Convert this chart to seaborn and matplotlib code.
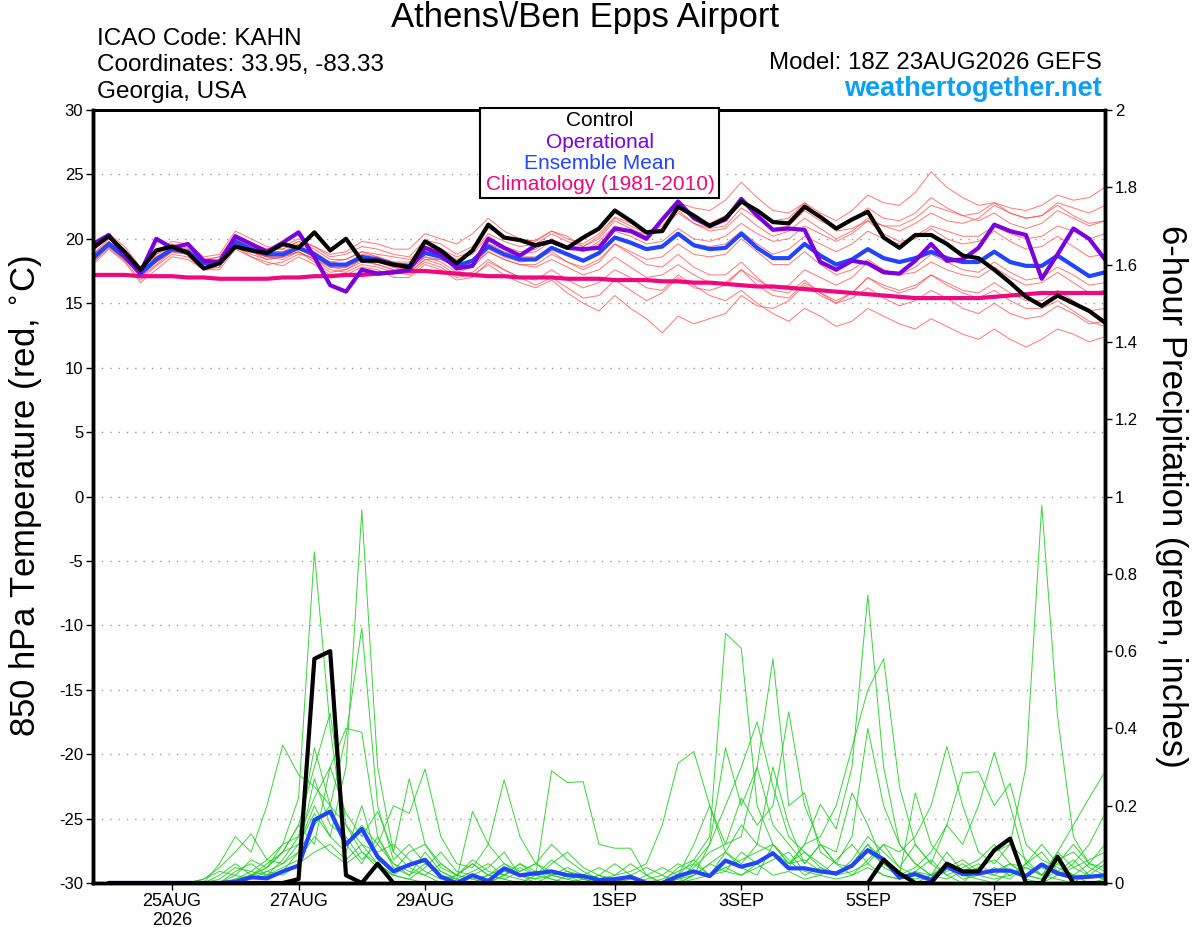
import numpy as np
import pandas as pd
import matplotlib
matplotlib.use("Agg")
import matplotlib.pyplot as plt
import matplotlib.patches as mpatches
import seaborn as sns

# 6-hourly GEFS run, 18Z 23AUG2026 out to 384 h
times = pd.date_range("2026-08-23 18:00", periods=65, freq="6h")
precip_times = times[1:]

# 850 hPa temperature (C)
control_temp = [19.3, 20.2, 19.0, 17.6, 19.1, 19.4, 18.9, 17.7, 18.1, 19.4,
                19.1, 18.9, 19.6, 19.3, 20.5, 19.1, 20.0, 18.3, 18.3, 18.0,
                17.8, 19.8, 19.1, 18.1, 19.1, 21.1, 20.1, 19.9, 19.5, 19.8,
                19.3, 20.1, 20.8, 22.2, 21.4, 20.5, 20.6, 22.5, 21.8, 21.0,
                21.6, 22.9, 22.2, 21.3, 21.2, 22.5, 21.7, 20.8, 21.5, 22.1,
                20.1, 19.3, 20.3, 20.3, 19.6, 18.7, 18.5, 17.6, 16.6, 15.5,
                14.8, 15.6, 15.0, 14.4, 13.5]
oper_temp = [19.6, 20.3, 18.7, 17.4, 20.0, 19.3, 19.6, 18.3, 18.2, 20.2,
             19.6, 19.0, 19.7, 20.5, 18.6, 16.4, 15.9, 17.6, 17.3, 17.4,
             17.6, 19.3, 18.8, 17.7, 17.9, 20.0, 19.3, 18.7, 19.5, 19.8,
             19.3, 19.2, 19.3, 20.8, 20.6, 20.0, 21.5, 22.9, 21.6, 21.0,
             21.5, 23.1, 21.8, 20.7, 20.8, 20.7, 18.2, 17.6, 18.3, 18.1,
             17.4, 17.3, 18.3, 19.6, 18.3, 18.4, 19.3, 21.1, 20.6, 20.3,
             16.9, 18.8, 20.8, 20.0, 18.4]
mean_temp = [18.5, 19.6, 18.6, 17.3, 18.4, 19.2, 19.0, 18.1, 18.2, 19.8,
             19.2, 18.8, 18.8, 19.3, 18.8, 18.0, 18.0, 18.6, 18.4, 18.0,
             17.9, 18.9, 18.6, 17.9, 18.3, 19.4, 18.8, 18.4, 18.4, 19.3,
             18.8, 18.3, 18.9, 20.1, 19.7, 19.2, 19.4, 20.4, 19.5, 19.2,
             19.3, 20.4, 19.3, 18.5, 18.5, 19.6, 18.7, 18.0, 18.4, 19.2,
             18.5, 18.2, 18.5, 19.0, 18.5, 18.2, 18.2, 19.0, 18.2, 17.9,
             17.9, 18.7, 17.9, 17.1, 17.4]
clim_temp = [17.2, 17.2, 17.2, 17.1, 17.1, 17.1, 17.0, 17.0, 16.9, 16.9,
             16.9, 16.9, 17.0, 17.0, 17.1, 17.1, 17.2, 17.2, 17.3, 17.4,
             17.5, 17.5, 17.4, 17.3, 17.2, 17.1, 17.1, 17.0, 17.0, 17.0,
             16.9, 16.9, 16.9, 16.8, 16.8, 16.8, 16.7, 16.7, 16.6, 16.6,
             16.5, 16.4, 16.3, 16.3, 16.2, 16.1, 16.0, 15.9, 15.8, 15.7,
             15.6, 15.5, 15.4, 15.4, 15.4, 15.4, 15.4, 15.5, 15.6, 15.7,
             15.8, 15.8, 15.8, 15.8, 15.8]

temp_members = [
    [18.8, 20.0, 19.0, 17.0, 18.8, 19.6, 19.3, 18.3, 18.6, 20.3,
     19.6, 19.2, 19.4, 20.0, 19.4, 18.6, 18.8, 19.4, 19.2, 18.8,
     18.6, 19.9, 19.6, 18.8, 19.4, 20.8, 20.2, 19.8, 19.9, 20.6,
     20.0, 19.6, 20.4, 21.7, 21.2, 20.6, 21.0, 22.4, 21.6, 21.2,
     21.8, 23.0, 22.0, 21.4, 21.6, 22.8, 22.0, 21.4, 22.2, 23.4,
     22.8, 22.6, 23.6, 25.2, 24.0, 23.2, 22.6, 22.8, 22.0, 21.6,
     21.8, 22.6, 21.8, 21.2, 21.4],
    [18.2, 19.3, 18.3, 16.8, 17.9, 18.8, 18.6, 17.6, 17.6, 19.2,
     18.6, 18.2, 17.9, 18.6, 18.0, 17.2, 17.2, 17.8, 17.6, 17.0,
     17.0, 18.0, 17.6, 16.8, 17.0, 18.2, 17.6, 17.0, 16.8, 17.6,
     16.8, 16.2, 16.6, 17.6, 17.0, 16.2, 16.0, 17.2, 16.4, 15.6,
     15.2, 16.0, 15.0, 14.2, 13.6, 14.6, 14.0, 13.2, 13.6, 14.6,
     14.0, 13.4, 13.0, 13.8, 13.2, 12.6, 12.2, 13.0, 12.2, 11.6,
     12.2, 13.0, 12.6, 12.0, 12.4],
    [18.6, 19.8, 18.8, 17.6, 18.2, 19.0, 18.8, 17.8, 17.8, 19.6,
     19.0, 18.4, 18.6, 19.0, 18.4, 17.6, 17.4, 18.0, 17.8, 17.4,
     17.2, 18.2, 17.8, 17.0, 17.2, 18.0, 17.2, 16.6, 16.2, 16.8,
     15.8, 15.0, 14.4, 15.6, 14.6, 13.8, 12.7, 14.0, 13.4, 13.8,
     14.2, 15.6, 14.8, 14.6, 15.2, 16.4, 15.6, 15.0, 15.8, 17.0,
     16.4, 16.0, 16.4, 17.2, 16.6, 16.0, 15.8, 16.6, 15.8, 15.2,
     15.2, 16.0, 15.2, 14.4, 14.6],
    [19.0, 20.4, 19.4, 17.8, 19.0, 19.8, 19.6, 18.6, 18.8, 20.6,
     20.0, 19.4, 19.2, 19.8, 19.4, 18.8, 19.0, 19.8, 19.6, 19.2,
     19.2, 20.4, 20.0, 19.6, 20.4, 21.6, 20.6, 20.0, 19.8, 20.6,
     20.2, 19.4, 20.0, 21.4, 20.8, 20.2, 20.8, 22.2, 21.2, 20.6,
     20.8, 22.0, 21.0, 20.2, 20.6, 21.6, 20.8, 20.0, 20.6, 21.6,
     21.0, 20.6, 21.2, 22.0, 21.4, 21.2, 21.6, 22.6, 22.0, 21.6,
     21.8, 22.8, 22.4, 22.0, 22.6],
    [18.0, 19.2, 18.2, 16.6, 17.6, 18.6, 18.4, 17.6, 17.8, 19.4,
     18.6, 18.0, 18.2, 18.8, 18.6, 18.0, 17.8, 18.4, 18.2, 17.8,
     17.4, 18.4, 18.4, 17.8, 18.0, 19.2, 18.6, 18.2, 18.4, 19.0,
     18.2, 17.6, 18.2, 19.6, 19.0, 18.4, 18.6, 19.6, 18.8, 18.6,
     18.8, 20.0, 19.0, 18.0, 18.0, 19.0, 18.0, 17.2, 17.6, 18.4,
     17.6, 17.2, 17.4, 18.2, 17.6, 17.2, 17.0, 17.8, 17.0, 16.4,
     16.6, 17.4, 16.6, 15.8, 16.0],
    [18.4, 19.6, 18.4, 17.2, 18.6, 19.4, 19.2, 18.2, 18.4, 19.9,
     19.4, 19.0, 19.0, 19.4, 18.8, 18.2, 18.4, 19.0, 18.8, 18.6,
     18.4, 19.4, 19.0, 18.4, 18.8, 20.2, 19.4, 19.0, 19.2, 20.0,
     19.4, 19.0, 19.8, 21.0, 20.6, 20.4, 21.4, 22.8, 22.4, 22.2,
     23.0, 24.4, 23.2, 22.2, 22.0, 22.8, 21.6, 20.6, 20.8, 21.4,
     20.4, 19.8, 20.0, 20.8, 20.0, 19.6, 19.8, 20.6, 19.8, 19.2,
     19.4, 20.2, 19.4, 18.6, 18.8],
    [18.6, 19.4, 18.6, 17.0, 18.2, 19.0, 18.8, 17.8, 18.0, 19.6,
     19.0, 18.6, 18.4, 19.0, 18.2, 17.4, 17.6, 18.2, 18.0, 17.6,
     17.6, 18.6, 18.2, 17.4, 17.8, 19.0, 18.4, 18.0, 18.0, 18.8,
     18.2, 17.8, 18.4, 19.6, 18.8, 18.0, 17.8, 18.8, 17.8, 17.2,
     17.2, 18.2, 17.0, 16.0, 15.8, 16.8, 15.8, 15.0, 15.4, 16.2,
     15.4, 14.8, 15.2, 16.0, 15.4, 14.6, 14.2, 15.0, 14.2, 13.8,
     14.0, 14.8, 14.2, 13.4, 13.6],
    [18.8, 19.8, 19.0, 17.6, 18.8, 19.4, 19.0, 18.0, 18.4, 20.0,
     19.4, 19.0, 19.0, 19.6, 19.0, 18.2, 18.0, 18.8, 18.6, 18.2,
     18.2, 19.4, 19.2, 18.6, 19.0, 20.4, 19.8, 19.4, 19.6, 20.4,
     19.8, 19.4, 20.2, 21.6, 21.0, 20.4, 20.8, 22.0, 21.2, 20.8,
     21.0, 22.4, 21.6, 20.8, 21.0, 22.2, 21.4, 20.8, 21.4, 22.4,
     21.6, 21.4, 22.0, 23.2, 22.4, 21.8, 21.4, 22.0, 21.2, 20.8,
     21.2, 22.2, 21.6, 21.0, 21.4],
    [18.2, 19.4, 18.4, 17.2, 18.4, 19.2, 19.0, 18.0, 18.0, 19.4,
     18.8, 18.4, 18.6, 19.2, 18.6, 17.8, 17.6, 18.4, 18.0, 17.6,
     17.4, 18.4, 18.0, 17.2, 17.4, 18.4, 17.6, 17.0, 16.4, 17.0,
     16.2, 15.4, 15.6, 16.8, 16.0, 15.2, 15.8, 17.0, 16.2, 16.0,
     16.4, 17.6, 16.8, 16.2, 16.4, 17.6, 17.0, 16.4, 17.0, 18.2,
     17.6, 17.2, 17.8, 18.8, 18.2, 17.6, 17.4, 18.2, 17.4, 16.8,
     17.0, 17.8, 17.2, 16.4, 16.6],
    [18.6, 19.6, 18.8, 17.4, 18.6, 19.2, 19.0, 18.4, 18.6, 20.2,
     19.6, 19.2, 19.2, 19.8, 19.2, 18.4, 18.4, 19.0, 18.6, 18.2,
     18.0, 19.0, 18.6, 18.0, 18.4, 19.6, 19.0, 18.6, 18.6, 19.4,
     18.8, 18.4, 19.0, 20.2, 19.8, 19.2, 19.4, 20.4, 19.6, 19.4,
     19.6, 20.6, 19.6, 18.8, 19.2, 20.2, 19.6, 19.0, 19.6, 20.6,
     20.0, 19.6, 20.2, 21.0, 20.6, 20.2, 20.2, 21.0, 20.4, 20.0,
     20.2, 21.0, 20.6, 20.0, 20.4],
    [18.4, 19.8, 18.6, 17.0, 18.0, 19.0, 19.2, 18.2, 18.2, 19.8,
     19.0, 18.6, 18.6, 19.2, 18.6, 17.8, 17.8, 18.6, 18.4, 18.0,
     17.8, 18.8, 18.6, 18.0, 18.4, 19.6, 19.2, 18.8, 19.0, 19.8,
     19.4, 19.0, 19.6, 20.6, 20.2, 19.6, 19.8, 20.8, 20.0, 19.8,
     20.2, 21.2, 20.4, 19.8, 20.0, 21.0, 20.4, 19.8, 20.4, 21.4,
     21.0, 21.0, 21.6, 22.6, 22.2, 21.8, 22.0, 22.8, 22.4, 22.2,
     22.6, 23.4, 23.0, 23.2, 24.0],
    [18.4, 19.4, 18.4, 17.2, 18.2, 19.0, 18.8, 18.0, 18.2, 19.6,
     19.0, 18.6, 18.6, 19.0, 18.4, 17.8, 17.8, 18.4, 18.2, 17.8,
     17.6, 18.6, 18.4, 17.8, 18.0, 19.0, 18.4, 18.0, 17.8, 18.4,
     17.8, 17.2, 17.6, 18.6, 17.8, 17.0, 17.2, 18.0, 17.2, 16.6,
     16.6, 17.6, 16.4, 15.6, 15.4, 16.6, 15.8, 15.2, 15.8, 17.0,
     16.2, 15.8, 16.2, 17.2, 16.4, 15.8, 15.4, 16.0, 15.2, 14.6,
     14.6, 15.2, 14.4, 13.6, 13.2],
]

# 6-hour precipitation (inches), valid 00Z 24AUG onward
control_precip = [0, 0, 0, 0, 0, 0, 0, 0,
                  0, 0, 0, 0, 0.01, 0.58, 0.60, 0.02,
                  0, 0.05, 0, 0, 0, 0, 0, 0,
                  0, 0, 0, 0, 0, 0, 0, 0,
                  0, 0, 0, 0, 0, 0, 0, 0,
                  0, 0, 0, 0, 0, 0, 0, 0,
                  0, 0.06, 0.025, 0, 0, 0.05, 0.03, 0.03,
                  0.085, 0.115, 0, 0, 0.068, 0, 0, 0]
mean_precip = [0, 0, 0, 0, 0, 0, 0, 0,
               0.003, 0.015, 0.012, 0.03, 0.045, 0.163, 0.185, 0.10,
               0.14, 0.068, 0.03, 0.047, 0.06, 0.016, 0.0, 0.02,
               0.005, 0.038, 0.02, 0.025, 0.03, 0.02, 0.018, 0.008,
               0.01, 0.016, 0.0, 0.0, 0.018, 0.03, 0.018, 0.058,
               0.042, 0.053, 0.077, 0.038, 0.038, 0.03, 0.025, 0.045,
               0.085, 0.061, 0.014, 0.023, 0.008, 0.042, 0.023, 0.025,
               0.032, 0.032, 0.018, 0.048, 0.025, 0.014, 0.016, 0.02]

precip_members = [
    [0, 0, 0, 0, 0, 0, 0, 0,
     0, 0.02, 0.05, 0.08, 0.10, 0.20, 0.12, 0.30,
     0.965, 0.30, 0.08, 0.04, 0.02, 0, 0, 0.02,
     0.04, 0.08, 0.02, 0, 0, 0.02, 0.01, 0,
     0, 0, 0, 0, 0.01, 0.02, 0.05, 0.08,
     0.04, 0.02, 0.10, 0.06, 0.02, 0.04, 0.02, 0.05,
     0.10, 0.04, 0.02, 0, 0.02, 0.05, 0.02, 0.01,
     0, 0.03, 0.02, 0.01, 0.03, 0.02, 0, 0.01],
    [0, 0, 0, 0, 0, 0, 0, 0.02,
     0.05, 0.02, 0.04, 0.10, 0.22, 0.857, 0.40, 0.10,
     0.05, 0.12, 0.04, 0.02, 0.05, 0.02, 0, 0,
     0, 0.02, 0.05, 0.03, 0.01, 0, 0, 0.02,
     0.05, 0.02, 0, 0, 0.04, 0.06, 0.02, 0.03,
     0.08, 0.05, 0.02, 0.03, 0.01, 0.02, 0.06, 0.10,
     0.05, 0.02, 0.01, 0.03, 0.06, 0.02, 0, 0.04,
     0.06, 0.03, 0.01, 0, 0.02, 0.04, 0.06, 0.08],
    [0, 0, 0, 0, 0, 0, 0, 0.05,
     0.12, 0.08, 0.20, 0.357, 0.28, 0.25, 0.20, 0.38,
     0.66, 0.20, 0.06, 0.10, 0.05, 0.03, 0.01, 0,
     0.02, 0.05, 0.03, 0.05, 0.10, 0.06, 0.03, 0.01,
     0, 0.02, 0.04, 0.02, 0, 0.02, 0.10, 0.35,
     0.20, 0.30, 0.15, 0.10, 0.05, 0.10, 0.05, 0.12,
     0.40, 0.20, 0.10, 0.05, 0.02, 0.08, 0.03, 0.02,
     0.04, 0.02, 0.05, 0.10, 0.05, 0.02, 0.02, 0.05],
    [0, 0, 0, 0, 0, 0, 0.01, 0.03,
     0.02, 0.06, 0.04, 0.08, 0.15, 0.30, 0.44, 0.15,
     0.10, 0.05, 0.02, 0.01, 0, 0, 0.02, 0.05,
     0.02, 0.01, 0, 0.02, 0.06, 0.03, 0.02, 0,
     0, 0, 0, 0, 0.02, 0.06, 0.12, 0.646,
     0.607, 0.20, 0.10, 0.05, 0.08, 0.04, 0.02, 0.03,
     0.05, 0.10, 0.04, 0.02, 0.01, 0.03, 0.05, 0.02,
     0.01, 0.02, 0.04, 0.02, 0.01, 0, 0.03, 0.06],
    [0, 0, 0, 0, 0, 0, 0, 0,
     0, 0.02, 0.03, 0.05, 0.10, 0.18, 0.12, 0.08,
     0.20, 0.06, 0.03, 0.08, 0.10, 0.04, 0.02, 0.06,
     0.03, 0.02, 0.05, 0.02, 0.29, 0.26, 0.262, 0.10,
     0.09, 0.09, 0.02, 0, 0, 0.01, 0.02, 0.04,
     0.02, 0.05, 0.08, 0.04, 0.10, 0.204, 0.14, 0.30,
     0.745, 0.30, 0.10, 0.05, 0.02, 0.04, 0.01, 0.02,
     0.03, 0.05, 0.02, 0.01, 0.08, 0.04, 0.02, 0.01],
    [0, 0, 0, 0, 0, 0, 0, 0,
     0.03, 0.05, 0.02, 0.06, 0.12, 0.22, 0.30, 0.18,
     0.12, 0.185, 0.08, 0.27, 0.10, 0.05, 0.02, 0.01,
     0.02, 0.04, 0.02, 0.03, 0.02, 0.01, 0.02, 0.04,
     0.02, 0.03, 0.05, 0.15, 0.31, 0.34, 0.20, 0.10,
     0.12, 0.30, 0.58, 0.20, 0.233, 0.08, 0.05, 0.02,
     0.06, 0.10, 0.08, 0.12, 0.20, 0.353, 0.20, 0.08,
     0.05, 0.10, 0.06, 0.02, 0.05, 0.10, 0.05, 0.03],
    [0, 0, 0, 0, 0, 0, 0, 0,
     0.01, 0.02, 0.04, 0.08, 0.15, 0.10, 0.30, 0.40,
     0.39, 0.12, 0.05, 0.02, 0.08, 0.03, 0.01, 0.185,
     0.10, 0.05, 0.02, 0.01, 0.02, 0.04, 0.02, 0.01,
     0.02, 0.05, 0.02, 0, 0.01, 0.04, 0.08, 0.10,
     0.22, 0.15, 0.20, 0.443, 0.20, 0.10, 0.05, 0.04,
     0.08, 0.05, 0.02, 0.233, 0.10, 0.05, 0.02, 0.04,
     0.08, 0.10, 0.30, 0.978, 0.43, 0.12, 0.05, 0.10],
    [0, 0, 0, 0, 0, 0, 0, 0.01,
     0.04, 0.03, 0.06, 0.05, 0.08, 0.27, 0.15, 0.12,
     0.06, 0.10, 0.20, 0.18, 0.295, 0.12, 0.05, 0.04,
     0.10, 0.267, 0.12, 0.05, 0.03, 0.02, 0, 0,
     0, 0, 0.01, 0.02, 0.05, 0.03, 0.02, 0.08,
     0.15, 0.10, 0.08, 0.05, 0.10, 0.12, 0.20, 0.35,
     0.50, 0.58, 0.25, 0.10, 0.05, 0.02, 0.04, 0.06,
     0.10, 0.05, 0.02, 0.04, 0.02, 0.05, 0.10, 0.18],
    [0, 0, 0, 0, 0, 0, 0, 0,
     0, 0.01, 0.02, 0.04, 0.06, 0.12, 0.08, 0.05,
     0.08, 0.04, 0.02, 0.05, 0.06, 0.02, 0.01, 0.03,
     0.05, 0.02, 0.01, 0, 0.02, 0.03, 0.01, 0,
     0.01, 0.02, 0, 0, 0, 0.05, 0.10, 0.20,
     0.30, 0.417, 0.25, 0.12, 0.08, 0.05, 0.02, 0.06,
     0.12, 0.08, 0.04, 0.10, 0.05, 0.15, 0.10, 0.20,
     0.338, 0.20, 0.05, 0.02, 0.08, 0.15, 0.22, 0.288],
    [0, 0, 0, 0, 0, 0, 0, 0,
     0.02, 0.01, 0.03, 0.02, 0.05, 0.08, 0.10, 0.06,
     0.10, 0.08, 0.10, 0.06, 0.03, 0.01, 0.02, 0.05,
     0.02, 0.01, 0.03, 0.05, 0.02, 0.01, 0, 0,
     0, 0, 0, 0.01, 0.03, 0.05, 0.02, 0.04,
     0.06, 0.08, 0.10, 0.05, 0.06, 0.03, 0.02, 0.05,
     0.10, 0.06, 0.02, 0.04, 0.08, 0.15, 0.285, 0.288,
     0.20, 0.258, 0.10, 0.06, 0.04, 0.02, 0.05, 0.04],
    [0, 0, 0, 0, 0, 0, 0, 0,
     0.01, 0.03, 0.02, 0.03, 0.08, 0.15, 0.20, 0.10,
     0.15, 0.10, 0.05, 0.03, 0.02, 0.05, 0.02, 0.01,
     0, 0.02, 0.04, 0.02, 0.01, 0, 0.01, 0.02,
     0.01, 0, 0.02, 0.04, 0.02, 0.10, 0.20, 0.08,
     0.05, 0.10, 0.30, 0.15, 0.05, 0.10, 0.08, 0.233,
     0.15, 0.05, 0.02, 0.01, 0.02, 0.01, 0.03, 0.05,
     0.02, 0.01, 0.05, 0.08, 0.03, 0.06, 0.02, 0.01],
    [0, 0, 0, 0, 0, 0, 0.01, 0.04,
     0.08, 0.127, 0.06, 0.10, 0.12, 0.35, 0.20, 0.15,
     0.08, 0.05, 0.02, 0.01, 0.04, 0.08, 0.03, 0.02,
     0.01, 0.03, 0.02, 0.01, 0.05, 0.08, 0.04, 0.02,
     0, 0.01, 0, 0, 0, 0.02, 0.05, 0.03,
     0.02, 0.04, 0.06, 0.08, 0.03, 0.02, 0.01, 0.02,
     0.04, 0.02, 0.01, 0.03, 0.02, 0.04, 0.06, 0.03,
     0.02, 0.05, 0.04, 0.02, 0.06, 0.08, 0.04, 0.02],
]

tick_days = ["2026-08-25", "2026-08-27", "2026-08-29", "2026-09-01",
             "2026-09-03", "2026-09-05", "2026-09-07"]
tick_labels = ["25AUG\n2026", "27AUG", "29AUG", "1SEP", "3SEP", "5SEP", "7SEP"]

legend_entries = ["Control", "Operational", "Ensemble Mean", "Climatology (1981-2010)"]

COL_RED = "#ff4a4a"
COL_GREEN = "#22d022"
COL_CTRL = "black"
COL_OPER = "#7a00dd"
COL_MEAN = "#2244ff"
COL_CLIM = "#f0087f"
legend_colors = [COL_CTRL, COL_OPER, COL_MEAN, COL_CLIM]

sns.set_theme(style="white")
plt.rcParams["font.family"] = ["Liberation Sans", "DejaVu Sans"]
plt.rcParams["axes.unicode_minus"] = False
plt.rcParams["text.color"] = "black"
plt.rcParams["axes.labelcolor"] = "black"
plt.rcParams["xtick.color"] = "black"
plt.rcParams["ytick.color"] = "black"

# long tables for the member spaghetti
n_t = len(temp_members)
temp_df = pd.DataFrame({
    "time": np.tile(times, n_t),
    "member": np.repeat(np.arange(n_t), len(times)),
    "value": np.concatenate(temp_members),
})
n_p = len(precip_members)
precip_df = pd.DataFrame({
    "time": np.tile(precip_times, n_p),
    "member": np.repeat(np.arange(n_p), len(precip_times)),
    "value": np.concatenate(precip_members),
})

fig = plt.figure(figsize=(12, 9.27), dpi=100)
ax = fig.add_axes([93 / 1200, 1 - 883 / 927, 1012 / 1200, 773 / 927])
ax2 = ax.twinx()

# temperature (left axis)
sns.lineplot(data=temp_df, x="time", y="value", units="member", estimator=None,
             color=COL_RED, lw=0.7, alpha=0.75, legend=False, ax=ax)
sns.lineplot(x=times, y=clim_temp, color=COL_CLIM, lw=3, ax=ax)
sns.lineplot(x=times, y=mean_temp, color=COL_MEAN, lw=3, ax=ax)
sns.lineplot(x=times, y=oper_temp, color=COL_OPER, lw=3, ax=ax)
sns.lineplot(x=times, y=control_temp, color=COL_CTRL, lw=3, ax=ax)

# precipitation (right axis)
sns.lineplot(data=precip_df, x="time", y="value", units="member", estimator=None,
             color=COL_GREEN, lw=0.7, alpha=0.9, legend=False, ax=ax2)
sns.lineplot(x=precip_times, y=mean_precip, color=COL_MEAN, lw=3, ax=ax2)
sns.lineplot(x=precip_times, y=control_precip, color=COL_CTRL, lw=3, ax=ax2)

ax.set_xlim(times[0], times[-1])
ax.set_ylim(-30, 30)
ax.set_yticks(np.arange(-30, 31, 5))
ax2.set_ylim(0, 2)
ax2.set_yticks(np.arange(0, 2.01, 0.2))
ax2.set_yticklabels([f"{v:g}" for v in np.arange(0, 2.01, 0.2).round(1)])

ax.set_xticks(pd.to_datetime(tick_days))
ax.set_xticklabels(tick_labels)
ax.set_xlabel("")

ax.yaxis.grid(True, linestyle=(0, (1, 5)), color="#999999", lw=1.0)
ax.xaxis.grid(False)
ax2.grid(False)

ax.tick_params(axis="y", direction="out", length=5, width=1, labelsize=12, pad=2,
               left=True)
ax.tick_params(axis="x", direction="out", length=5, width=1, labelsize=13, pad=2,
               bottom=True)
ax2.tick_params(axis="y", direction="out", length=5, width=1, labelsize=12, pad=2,
                right=True)

for a in (ax, ax2):
    for side in ("left", "bottom", "right"):
        a.spines[side].set_linewidth(2.5)
        a.spines[side].set_color("black")
    a.spines["top"].set_linewidth(2)
    a.spines["top"].set_color("black")

ax.set_ylabel("850 hPa Temperature (red, $^{\\circ}$C)", fontsize=25)
ax2.set_ylabel("6-hour Precipitation (green, inches)", fontsize=25, rotation=270)
ax.yaxis.set_label_coords(-0.048, 0.5)
ax2.yaxis.set_label_coords(1.082, 0.5)

# header text
fig.text(585 / 1200, 1 - 18 / 927, "Athens\\/Ben Epps Airport", fontsize=25,
         ha="center", va="center")
fig.text(97 / 1200, 1 - 39 / 927, "ICAO Code: KAHN", fontsize=17.5, va="center")
fig.text(97 / 1200, 1 - 65 / 927, "Coordinates: 33.95, -83.33", fontsize=17.5, va="center")
fig.text(97 / 1200, 1 - 92 / 927, "Georgia, USA", fontsize=17.5, va="center")
fig.text(1102 / 1200, 1 - 63 / 927, "Model: 18Z 23AUG2026 GEFS", fontsize=17.4,
         ha="right", va="center")
fig.text(1102 / 1200, 1 - 89 / 927, "weathertogether.net", fontsize=19.5,
         fontweight="bold", color="#0aa0f5", ha="right", va="center")

# legend box straddling the top of the plot
box = mpatches.Rectangle((480 / 1200, 1 - 198 / 927), 239 / 1200, 90 / 927,
                         transform=fig.transFigure, facecolor="white",
                         edgecolor="black", lw=1.5, zorder=5)
fig.patches.append(box)
for k, (label, col) in enumerate(zip(legend_entries, legend_colors)):
    fig.text(600 / 1200, 1 - (121 + 21.3 * k) / 927, label, color=col,
             fontsize=15, ha="center", va="center", zorder=6)

fig.savefig("out.png", dpi=100)
